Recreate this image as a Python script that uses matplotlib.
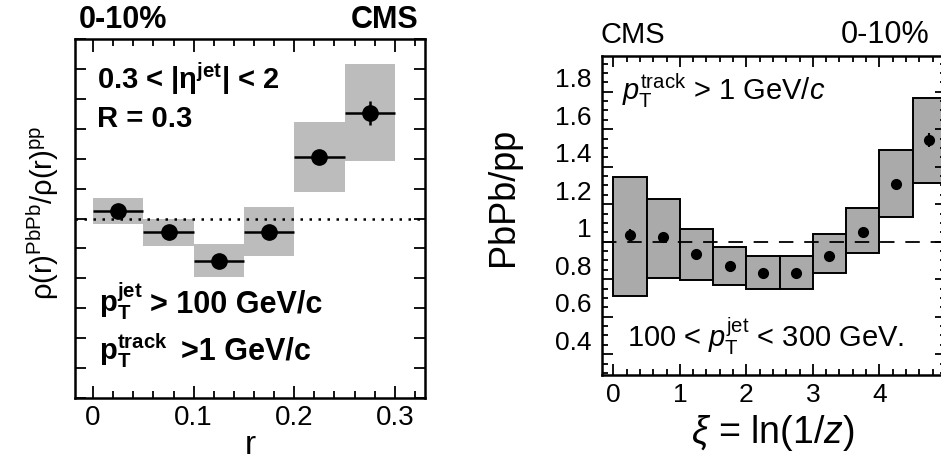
import matplotlib
matplotlib.use("Agg")
import matplotlib.pyplot as plt
import matplotlib.transforms as mtransforms
from matplotlib.ticker import MultipleLocator

plt.rcParams['font.family'] = ['Liberation Sans', 'DejaVu Sans']
plt.rcParams['mathtext.fontset'] = 'custom'
plt.rcParams['mathtext.rm'] = 'Liberation Sans'
plt.rcParams['mathtext.it'] = 'Liberation Sans:italic'
plt.rcParams['mathtext.bf'] = 'Liberation Sans:bold'

# ---- left panel data: jet shape ratio ----
left_r = [0.025, 0.075, 0.125, 0.175, 0.225, 0.275]
left_val = [1.025, 0.955, 0.859, 0.955, 1.207, 1.353]
left_sys_lo = [0.981, 0.909, 0.803, 0.875, 1.089, 1.193]
left_sys_hi = [1.069, 0.998, 0.915, 1.037, 1.322, 1.517]
left_stat = [0.005, 0.005, 0.005, 0.005, 0.01, 0.04]
left_binw = 0.05
left_xticks = [0, 0.1, 0.2, 0.3]
left_xticklabels = ['0', '0.1', '0.2', '0.3']

# ---- right panel data: fragmentation function ratio ----
right_xi = [0.25, 0.75, 1.25, 1.75, 2.25, 2.75, 3.25, 3.75, 4.25, 4.75]
right_val = [1.036, 1.023, 0.933, 0.870, 0.835, 0.831, 0.925, 1.050, 1.306, 1.542]
right_sys_lo = [0.710, 0.808, 0.796, 0.769, 0.746, 0.746, 0.835, 0.938, 1.133, 1.315]
right_sys_hi = [1.347, 1.226, 1.066, 0.970, 0.924, 0.924, 1.039, 1.178, 1.489, 1.765]
right_stat = [0.03, 0.01, 0.01, 0.01, 0.01, 0.01, 0.01, 0.015, 0.02, 0.035]
right_binw = 0.5
right_xticks = [0, 1, 2, 3, 4]
right_xticklabels = ['0', '1', '2', '3', '4']
right_yticks = [0.4, 0.6, 0.8, 1.0, 1.2, 1.4, 1.6, 1.8]
right_yticklabels = ['0.4', '0.6', '0.8', '1', '1.2', '1.4', '1.6', '1.8']

W, H = 941, 465
fig = plt.figure(figsize=(W / 100, H / 100), dpi=100)

def fx(px):
    return px / W

def fy(py):
    return 1 - py / H

# ================= LEFT =================
axL = fig.add_axes([fx(75), fy(398), fx(425) - fx(75), fy(39) - fy(398)])
axL.set_xlim(-0.018, 0.33)
axL.set_ylim(0.4, 1.6)
heights = [h - l for h, l in zip(left_sys_hi, left_sys_lo)]
axL.bar(left_r, heights, width=left_binw, bottom=left_sys_lo, color='#bcbcbc',
        edgecolor='none', zorder=1)
axL.axhline(1.0, color='black', lw=1.8, dashes=(1, 2.6), zorder=2)
axL.errorbar(left_r, left_val, xerr=left_binw / 2, yerr=left_stat, fmt='o',
             color='black', ms=11, elinewidth=1.8, capsize=0, zorder=3)
axL.set_xticks(left_xticks)
axL.set_xticklabels(left_xticklabels, fontsize=20)
axL.xaxis.set_minor_locator(MultipleLocator(0.02))
axL.yaxis.set_major_locator(MultipleLocator(0.1))
axL.set_yticklabels([])
axL.tick_params(which='both', direction='in', top=True, right=True, width=1.3)
axL.tick_params(which='major', length=9, pad=5)
axL.tick_params(which='minor', length=5)
axL.tick_params(axis='y', which='major', length=8)
for s in axL.spines.values():
    s.set_linewidth(1.8)

fig.text(fx(79), fy(20), '0-10%', fontsize=22, fontweight='bold', ha='left', va='center')
fig.text(fx(418), fy(20), 'CMS', fontsize=22, fontweight='bold', ha='right', va='center')
fig.text(fx(97), fy(89), r'0.3 < |$\mathbf{\eta^{jet}}$| < 2', fontsize=21,
         fontweight='bold', ha='left', va='baseline')
fig.text(fx(97), fy(127), 'R = 0.3', fontsize=21, fontweight='bold', ha='left', va='baseline')
fig.text(fx(99), fy(312), r'$\mathbf{p_{T}^{jet}}$', fontsize=21, ha='left', va='baseline')
fig.text(fx(150), fy(312), '> 100 GeV/c', fontsize=22, fontweight='bold', ha='left', va='baseline')
fig.text(fx(99), fy(360), r'$\mathbf{p_{T}^{track}}$', fontsize=21, ha='left', va='baseline')
fig.text(fx(181), fy(360), '>1 GeV/c', fontsize=22, fontweight='bold', ha='left', va='baseline')
fig.text(fx(43), fy(213), r'ρ(r)$^{\mathregular{PbPb}}$/ρ(r)$^{\mathregular{pp}}$',
         fontsize=21, rotation=90, ha='center', va='center')
fig.text(fx(250), fy(445), 'r', fontsize=24, ha='center', va='center')

# ================= RIGHT =================
x0px = 601.7
x1px = 945.8
axR = fig.add_axes([fx(x0px), fy(375), fx(x1px) - fx(x0px), fy(56) - fy(375)])
axR.set_xlim(-0.175, 5.0)
axR.set_ylim(0.289, 1.99)
rh = [h - l for h, l in zip(right_sys_hi, right_sys_lo)]
axR.bar(right_xi, rh, width=right_binw, bottom=right_sys_lo, color='#aaaaaa',
        edgecolor='black', linewidth=1.4, zorder=1)
axR.axhline(1.0, color='black', lw=1.3, dashes=(8, 6), zorder=2)
axR.errorbar(right_xi, right_val, yerr=right_stat, fmt='o', color='black', ms=7,
             elinewidth=1.5, capsize=0, zorder=3)
axR.set_xticks(right_xticks)
axR.set_xticklabels(right_xticklabels, fontsize=19)
axR.xaxis.set_minor_locator(MultipleLocator(0.2))
axR.set_yticks(right_yticks)
axR.set_yticklabels(right_yticklabels, fontsize=19)
axR.yaxis.set_minor_locator(MultipleLocator(0.05))
axR.tick_params(which='both', direction='in', top=True, right=True, width=1.3)
axR.tick_params(which='major', length=8)
axR.tick_params(which='minor', length=4)
axR.tick_params(axis='x', which='major', pad=6)
axR.tick_params(axis='y', which='major', pad=7)
for s in axR.spines.values():
    s.set_linewidth(1.8)
off = mtransforms.ScaledTranslation(0, 14 / 100, fig.dpi_scale_trans)
for lab in axR.get_yticklabels():
    lab.set_transform(lab.get_transform() + off)

fig.text(fx(600), fy(35), 'CMS', fontsize=21, ha='left', va='center')
fig.text(fx(929), fy(35), '0-10%', fontsize=22, ha='right', va='center')
fig.text(fx(622), fy(100), r'$p_{\mathregular{T}}^{\mathregular{track}}$ > 1 GeV/$c$', fontsize=21,
         ha='left', va='baseline')
fig.text(fx(627), fy(347), r'100 < $p_{\mathregular{T}}^{\mathregular{jet}}$ < 300 GeV.', fontsize=21,
         ha='left', va='baseline')
fig.text(fx(503), fy(197), 'PbPb/pp', fontsize=26, rotation=90, ha='center', va='center')
fig.text(fx(773), fy(433), r'$\xi$ = ln(1/$z$)', fontsize=27, ha='center', va='center')

fig.savefig('out.png', dpi=100)
